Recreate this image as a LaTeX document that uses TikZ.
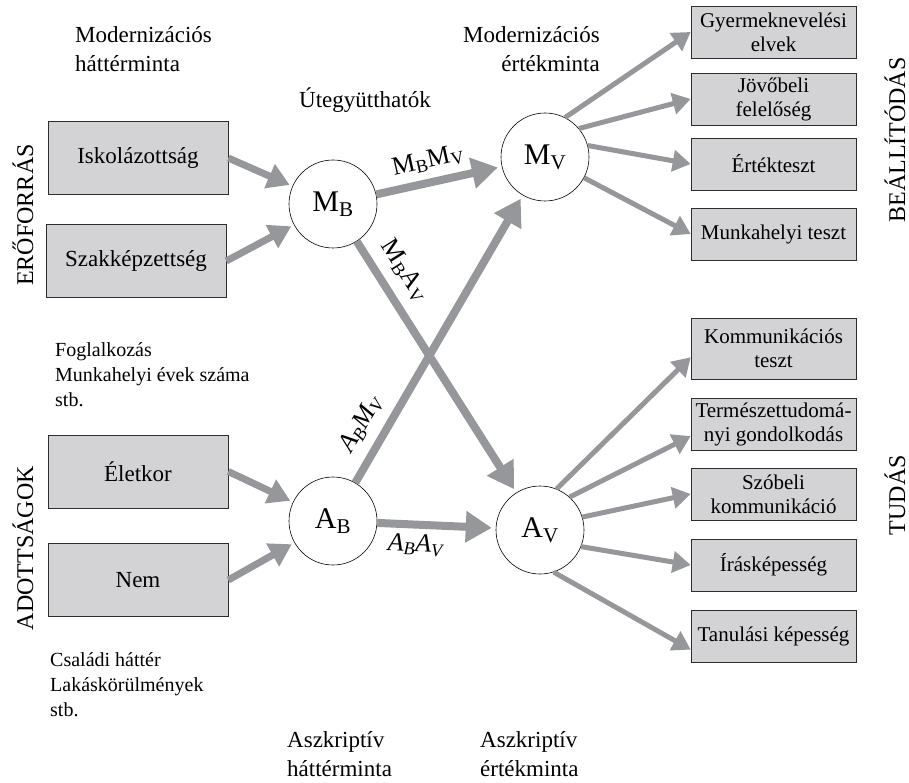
\documentclass[tikz,border=0pt]{standalone}
\usepackage{fontspec}
\setmainfont{Liberation Serif}
\usetikzlibrary{arrows.meta}
\definecolor{box_gray}{RGB}{211,211,213}
\definecolor{edge_gray}{RGB}{150,151,154}
\definecolor{line_dark}{RGB}{45,45,45}

\begin{document}
\begin{tikzpicture}[x=1pt,y=-1pt]
    \tikzstyle{lbox}=[draw=line_dark, fill=box_gray, semithick, minimum width=180pt, minimum height=73pt, font=\fontsize{23}{27}\selectfont]
    \tikzstyle{rbox}=[draw=line_dark, fill=box_gray, semithick, minimum width=165pt, minimum height=52pt, inner sep=1pt, align=center, font=\fontsize{21}{24}\selectfont]
    \tikzstyle{var}=[draw=black, circle, fill=white, semithick, minimum size=88pt, inner sep=0pt, font=\fontsize{30}{30}\selectfont]
    \tikzstyle{title}=[inner sep=0pt, font=\fontsize{23}{29}\selectfont]
    \tikzstyle{note}=[inner sep=0pt, align=left, font=\fontsize{20}{25}\selectfont]
    \tikzstyle{side}=[inner sep=0pt, rotate=90, anchor=base, font=\fontsize{24}{24}\selectfont]
    \tikzstyle{coef}=[inner sep=2pt, sloped, text=black, font=\fontsize{26}{26}\selectfont]
    \tikzstyle{inarr}=[edge_gray, line width=7pt, -{Triangle[length=22pt,width=25pt]}, shorten >=3pt]
    \tikzstyle{midarr}=[edge_gray, line width=8pt, -{Triangle[length=26pt,width=30pt]}, shorten >=4pt]
    \tikzstyle{outarr}=[edge_gray, line width=5pt, -{Triangle[length=18pt,width=21pt]}]

    \useasboundingbox (0,0) rectangle (909,783);

    % hatter
    \node[lbox] (isk)  at (138,158)   {Iskolázottság};
    \node[lbox] (szak) at (136,261)   {Szakképzettség};
    \node[lbox] (elet) at (138,471.5) {Életkor};
    \node[lbox] (nem)  at (138,580)   {Nem};

    \node[var] (mb) at (333,204) {M\textsubscript{B}};
    \node[var] (ab) at (333,521) {A\textsubscript{B}};
    \node[var] (mv) at (545,157) {M\textsubscript{V}};
    \node[var] (av) at (540,530) {A\textsubscript{V}};

    % ertek
    \node[rbox] (gyer) at (773.5,32)    {Gyermeknevelési\\elvek};
    \node[rbox] (jov)  at (773.5,99)    {Jövőbeli\\felelőség};
    \node[rbox] (ert)  at (773.5,164)   {Értékteszt};
    \node[rbox] (munk) at (773.5,234)   {Munkahelyi teszt};
    \node[rbox, minimum height=61pt] (kom) at (773.5,348.5) {Kommunikációs\\teszt};
    \node[rbox] (term) at (773.5,424.5) {Természettudomá-\\nyi gondolkodás};
    \node[rbox] (szo)  at (773.5,494)   {Szóbeli\\kommunikáció};
    \node[rbox] (iras) at (773.5,565)   {Írásképesség};
    \node[rbox] (tan)  at (773.5,636.5) {Tanulási képesség};

    \node[side] (erof) at (33,215)  {ERŐFORRÁS};
    \node[side] (adot) at (33,548)  {ADOTTSÁGOK};
    \node[side] (beal) at (905,140) {BEÁLLÍTÓDÁS};
    \node[side] (tuda) at (905,495) {TUDÁS};

    \node[title, anchor=base west, align=left]  (modh) at (75,72)   {Modernizációs\\háttérminta};
    \node[title, anchor=base east, align=right] (mode) at (600,72)  {Modernizációs\\értékminta};
    \node[title, anchor=base]                   (uteg) at (365,108) {Útegyütthatók};
    \node[title, anchor=base west, align=left]  (aszh) at (287,776) {Aszkriptív\\háttérminta};
    \node[title, anchor=base west, align=left]  (asze) at (480,776) {Aszkriptív\\értékminta};
    \node[note, anchor=base west] (fogl) at (55,406) {Foglalkozás\\Munkahelyi évek száma\\stb.};
    \node[note, anchor=base west] (csal) at (50,716) {Családi háttér\\Lakáskörülmények\\stb.};

    \path
     (isk.east)  edge[inarr] (mb)
     (szak.east) edge[inarr] (mb)
     (elet.east) edge[inarr] (ab)
     (nem.east)  edge[inarr] (ab)
     (mb) edge[midarr] node[coef, above=5pt, pos=.45] {M\textsubscript{B}M\textsubscript{V}} (mv)
     (mb) edge[midarr] node[coef, above=8pt, pos=.17] {M\textsubscript{B}A\textsubscript{V}} (av)
     (ab) edge[midarr] node[coef, above=8pt, pos=.16] {\textit{A\textsubscript{B}M\textsubscript{V}}} (mv)
     (ab) edge[midarr] node[coef, below=4pt, pos=.33] {\textit{A\textsubscript{B}A\textsubscript{V}}} (av)
     (mv.63)  edge[outarr] (gyer.west)
     (mv.40)  edge[outarr] (jov.west)
     (mv.15)  edge[outarr] (ert.west)
     (mv.-28) edge[outarr] (munk.west)
     (av.68)  edge[outarr] (kom.186)
     (av.48)  edge[outarr] (term.188)
     (av.17)  edge[outarr] (szo.west)
     (av.-22) edge[outarr] (iras.west)
     (av.-72) edge[outarr] (tan.189)
     ;
\end{tikzpicture}
\end{document}
